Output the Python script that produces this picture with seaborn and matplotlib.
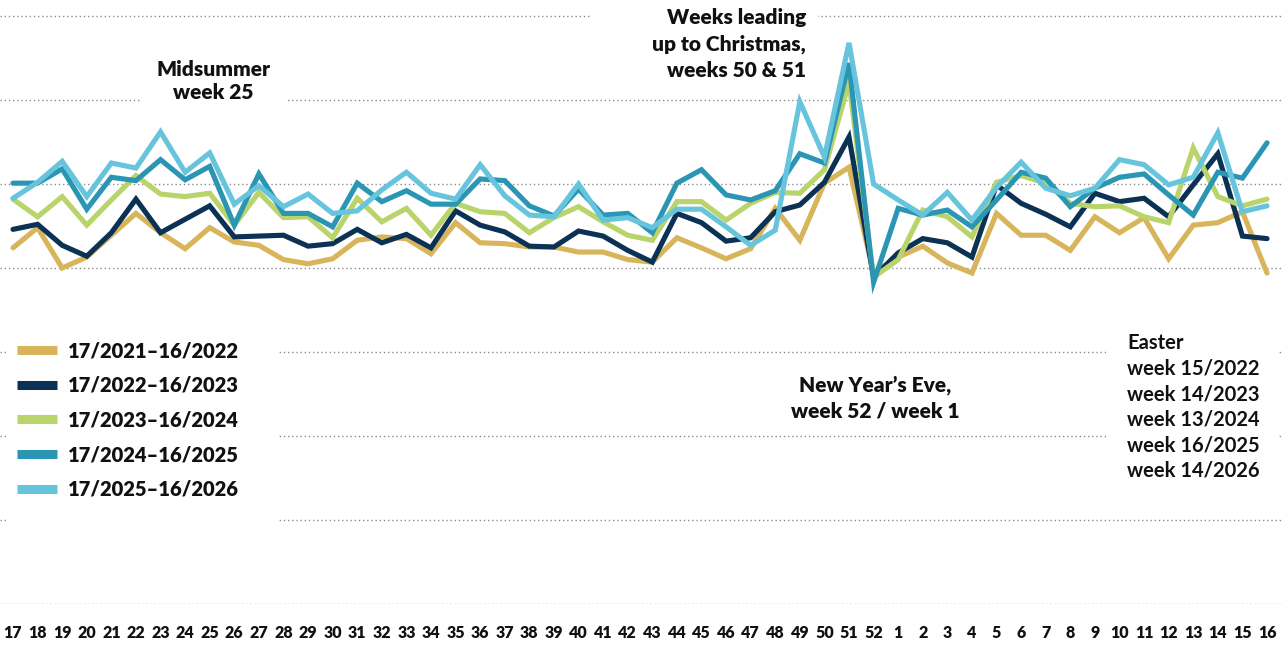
import matplotlib
matplotlib.use("Agg")
import matplotlib.pyplot as plt
from matplotlib.patches import Rectangle
import seaborn as sns
import pandas as pd

# ---------------- data ----------------
weeks = ["17", "18", "19", "20", "21", "22", "23", "24", "25", "26", "27", "28", "29",
         "30", "31", "32", "33", "34", "35", "36", "37", "38", "39", "40", "41", "42",
         "43", "44", "45", "46", "47", "48", "49", "50", "51", "52", "1", "2", "3",
         "4", "5", "6", "7", "8", "9", "10", "11", "12", "13", "14", "15", "16"]

seasons = ["17/2021\u201316/2022", "17/2022\u201316/2023", "17/2023\u201316/2024",
           "17/2024\u201316/2025", "17/2025\u201316/2026"]

s2122 = [42.4, 44.8, 40.0, 41.3, 43.9, 46.5, 44.2, 42.3, 44.8, 43.1, 42.7, 41.0, 40.5,
         41.1, 43.3, 43.7, 43.5, 41.7, 45.4, 43.0, 42.9, 42.5, 42.5, 41.9, 41.9, 41.0,
         40.7, 43.6, 42.4, 41.1, 42.3, 47.1, 43.3, 50.1, 52.0, 39.4, 41.3, 42.6, 40.6,
         39.4, 46.5, 43.9, 43.9, 42.1, 46.1, 44.2, 46.0, 41.1, 45.1, 45.4, 46.7, 39.4]
s2223 = [44.6, 45.2, 42.7, 41.4, 44.2, 48.2, 44.2, 45.8, 47.4, 43.7, 43.8, 43.9, 42.6,
         42.9, 44.6, 43.0, 44.0, 42.4, 46.8, 45.1, 44.3, 42.6, 42.5, 44.4, 43.8, 42.1,
         40.7, 46.5, 45.4, 43.2, 43.6, 46.7, 47.5, 50.2, 55.6, 38.9, 41.8, 43.5, 43.0,
         41.3, 49.9, 47.7, 46.4, 44.9, 48.9, 47.9, 48.3, 46.1, 49.9, 53.6, 43.8, 43.5]
s2324 = [48.2, 46.1, 48.5, 45.1, 48.1, 51.0, 48.8, 48.5, 48.9, 45.1, 49.0, 46.0, 46.1,
         43.6, 48.3, 45.5, 47.1, 43.9, 47.7, 46.7, 46.5, 44.2, 46.0, 47.3, 45.5, 43.9,
         43.3, 47.9, 47.9, 45.7, 47.7, 49.0, 48.9, 51.7, 62.1, 38.9, 41.0, 46.9, 46.1,
         43.7, 50.2, 51.0, 50.1, 47.7, 47.3, 47.4, 46.1, 45.4, 54.3, 48.5, 47.4, 48.2]
s2425 = [50.1, 50.1, 51.8, 47.0, 50.8, 50.4, 52.9, 50.5, 52.1, 45.1, 51.2, 46.5, 46.5,
         44.9, 50.1, 47.9, 49.2, 47.6, 47.6, 50.6, 50.4, 47.4, 46.2, 49.4, 46.3, 46.5,
         44.2, 50.1, 51.7, 48.7, 48.1, 49.2, 53.6, 52.5, 64.4, 38.3, 47.1, 46.3, 46.9,
         44.9, 48.1, 51.4, 50.7, 47.3, 49.5, 50.8, 51.2, 48.7, 46.3, 51.4, 50.7, 54.9]
s2526 = [48.3, 50.2, 52.7, 48.5, 52.5, 51.9, 56.2, 51.4, 53.7, 47.6, 49.8, 47.3, 48.8,
         46.5, 46.8, 49.3, 51.4, 48.9, 48.2, 52.3, 48.6, 46.3, 46.1, 50.0, 45.7, 46.0,
         44.8, 47.0, 47.0, 44.9, 42.7, 44.5, 59.8, 53.2, 66.8, 50.0, 48.1, 46.3, 49.0,
         45.7, 49.6, 52.6, 49.5, 48.6, 49.5, 52.9, 52.3, 49.9, 50.8, 56.1, 46.7, 47.4]

colors = ["#D8B55B", "#0B3254", "#B9D46A", "#2B95B4", "#66C4DC"]

rows = []
for name, vals in zip(seasons, [s2122, s2223, s2324, s2425, s2526]):
    for i, v in enumerate(vals):
        rows.append({"pos": i, "value": v, "season": name})
df = pd.DataFrame(rows)

# ---------------- figure ----------------
sns.set_style("white")
plt.rcParams["font.family"] = ["Lato", "DejaVu Sans"]

W, H = 1282, 650
fig = plt.figure(figsize=(W / 100, H / 100), dpi=100)
px_per_unit = 8.4
y_top_px = 5
ax = fig.add_axes([0, 46 / H, 1, (604 - y_top_px) / H])


def fx(x):
    return x / W


def fy(y):
    return 1 - y / H


sns.lineplot(data=df, x="pos", y="value", hue="season", hue_order=seasons,
             palette=dict(zip(seasons, colors)), linewidth=3.7, ax=ax,
             solid_joinstyle="miter", zorder=2)

step = 1254 / 51
ax.set_xlim(-13 / step, 51 + 15 / step)
ax.set_ylim(0, (604 - y_top_px) / px_per_unit)
ax.set_yticks(range(0, 71, 10))
ax.set_yticklabels([])
ax.tick_params(axis="y", length=0)
ax.set_xticks(range(len(weeks)))
ax.set_xticklabels(weeks, fontsize=11.5, fontweight="heavy", color="#111111")
ax.tick_params(axis="x", length=0, pad=15)
ax.set_xlabel("")
ax.set_ylabel("")
for s in ax.spines.values():
    s.set_visible(False)
ax.set_axisbelow(True)
ax.grid(axis="y", color="#8c8c8c", linestyle=(0, (1, 2)), linewidth=1.0)
ax.grid(axis="x", visible=False)
ax.patch.set_alpha(0)

# white boxes that interrupt the grid behind the texts
for (x0, y0, x1, y1) in [(140, 55, 288, 110), (592, 0, 818, 90),
                         (8, 338, 278, 532), (1106, 330, 1278, 482)]:
    ax.add_patch(Rectangle((fx(x0), fy(y1)), fx(x1) - fx(x0), fy(y0) - fy(y1),
                           transform=fig.transFigure, facecolor="white",
                           edgecolor="none", zorder=1.5, clip_on=False))

# legend
handles, labels = ax.get_legend_handles_labels()
leg = ax.legend(handles, labels, loc="upper left",
                bbox_to_anchor=(fx(17), fy(341)), bbox_transform=fig.transFigure,
                frameon=False, borderpad=0, borderaxespad=0,
                handlelength=2.0, handletextpad=0.55, labelspacing=0.78,
                prop={"family": ["Lato", "DejaVu Sans"], "weight": "heavy", "size": 14.5})
leg.set_zorder(6)
for ln in leg.get_lines():
    ln.set_linewidth(6.5)
    ln.set_solid_capstyle("butt")
for t in leg.get_texts():
    t.set_color("#111111")

# annotations
tkw = dict(transform=fig.transFigure, zorder=7, color="#111111")
ax.text(fx(213), fy(81), "Midsummer\nweek 25", ha="center", va="center",
        fontsize=15, fontweight="heavy", linespacing=1.28, **tkw)
ax.text(fx(806), fy(44), "Weeks leading\nup to Christmas,\nweeks 50 & 51",
        ha="right", va="center", fontsize=15, fontweight="heavy",
        linespacing=1.45, **tkw)
ax.text(fx(875), fy(398), "New Year\u2019s Eve,\nweek 52 / week 1",
        ha="center", va="center", fontsize=15, fontweight="heavy",
        linespacing=1.4, **tkw)
ax.text(fx(1127), fy(407),
        "Easter\nweek 15/2022\nweek 14/2023\nweek 13/2024\nweek 16/2025\nweek 14/2026",
        ha="left", va="center", fontsize=14.5, fontweight="bold",
        linespacing=1.34, **tkw)

fig.savefig("out.png", dpi=100)
